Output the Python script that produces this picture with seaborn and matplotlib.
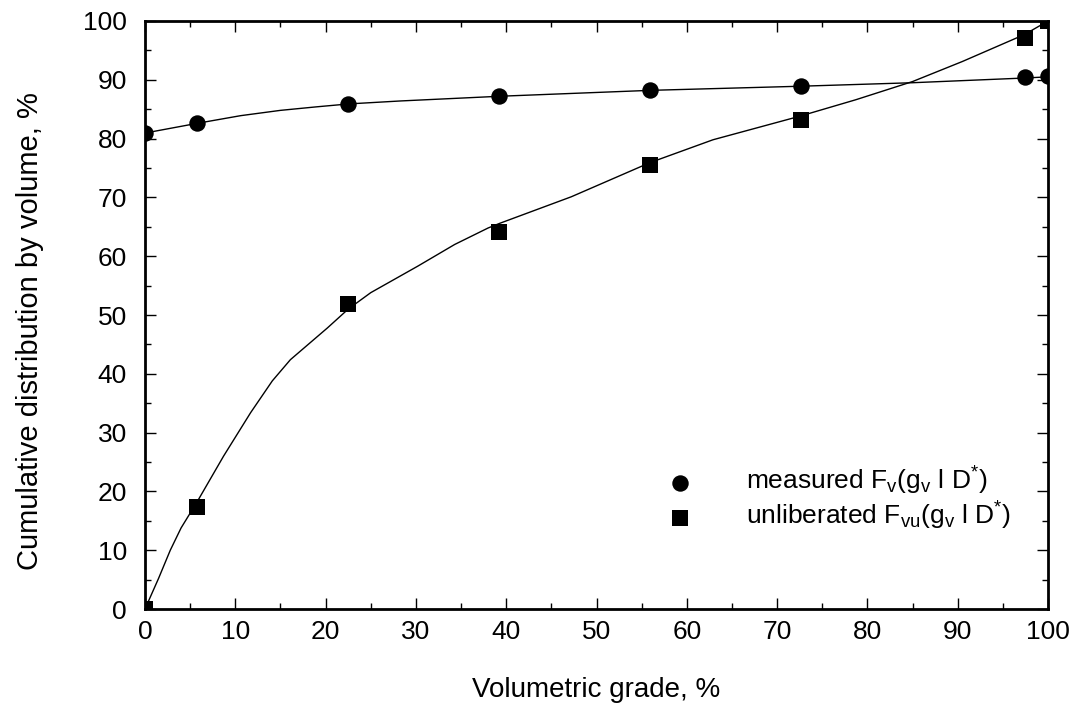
import matplotlib
matplotlib.use("Agg")
import matplotlib.pyplot as plt
from matplotlib.ticker import MultipleLocator
import seaborn as sns
import pandas as pd

# Measured grade distribution and the unliberated fraction (sample points)
grade_pts = [0.0, 5.8, 22.5, 39.2, 55.9, 72.6, 97.4, 100.0]
measured_pts = [81.0, 82.7, 85.9, 87.2, 88.3, 88.9, 90.4, 90.6]
unliberated_pts = [0.0, 17.4, 51.8, 64.1, 75.5, 83.2, 97.1, 100.0]

# Fitted model curves
measured_fit_x = [0.0, 0.9, 5.8, 10.6, 15.0, 19.0, 22.6, 28.3, 39.3, 55.9, 72.5, 85.0, 97.4, 100.0]
measured_fit_y = [81.0, 81.2, 82.6, 83.9, 84.8, 85.4, 85.9, 86.4, 87.2, 88.2, 88.9, 89.5, 90.3, 90.5]
unlib_fit_x = [0.0, 1.5, 2.8, 4.0, 5.8, 8.7, 11.7, 14.1, 16.1, 20.2, 22.5, 25.0, 30.2, 34.3,
               38.0, 39.3, 47.2, 55.9, 62.9, 72.5, 78.7, 85.0, 90.5, 97.4, 100.0]
unlib_fit_y = [0.0, 5.2, 10.0, 13.8, 18.3, 26.0, 33.4, 38.8, 42.4, 47.8, 51.0, 53.8, 58.3, 62.0,
               64.8, 65.6, 70.1, 75.9, 79.8, 83.8, 86.6, 89.7, 93.1, 97.7, 100.0]

sns.set_theme(style="white")
plt.rcParams["font.family"] = ["Liberation Sans", "DejaVu Sans"]
plt.rcParams["mathtext.fontset"] = "custom"
plt.rcParams["mathtext.rm"] = "Liberation Sans"
plt.rcParams["mathtext.it"] = "Liberation Sans"

fig = plt.figure(figsize=(10.78, 7.04), dpi=100)
ax = fig.add_axes([0.1345, 0.1349, 0.9722 - 0.1345, 0.9702 - 0.1349])

pts = pd.DataFrame({"grade": grade_pts, "measured": measured_pts, "unliberated": unliberated_pts})

sns.lineplot(x=measured_fit_x, y=measured_fit_y, sort=False, color="black", lw=1.0, ax=ax)
sns.lineplot(x=unlib_fit_x, y=unlib_fit_y, sort=False, color="black", lw=1.0, ax=ax)

sns.scatterplot(data=pts, x="grade", y="measured", marker="o", s=140, color="black",
                edgecolor="black", linewidth=0, ax=ax, zorder=3,
                label=r"measured F$_{\mathrm{v}}$(g$_{\mathrm{v}}$ l D$^{*}$)")
sns.scatterplot(data=pts, x="grade", y="unliberated", marker="s", s=120, color="black",
                edgecolor="black", linewidth=0, ax=ax, zorder=3,
                label=r"unliberated F$_{\mathrm{vu}}$(g$_{\mathrm{v}}$ l D$^{*}$)")

ax.set_xlim(0, 100)
ax.set_ylim(0, 100)
ax.xaxis.set_major_locator(MultipleLocator(10))
ax.xaxis.set_minor_locator(MultipleLocator(5))
ax.yaxis.set_major_locator(MultipleLocator(10))
ax.yaxis.set_minor_locator(MultipleLocator(5))
ax.tick_params(which="both", direction="in", top=True, right=True, bottom=True, left=True,
               color="black", width=1.0, labelsize=19, labelcolor="black")
ax.tick_params(which="major", length=8)
ax.tick_params(which="minor", length=4.5)
ax.tick_params(axis="x", which="major", pad=8)
ax.tick_params(axis="y", which="major", pad=13)

for sp in ax.spines.values():
    sp.set_visible(True)
    sp.set_color("black")
    sp.set_linewidth(2.0)

ax.set_xlabel("Volumetric grade, %", fontsize=20, color="black", labelpad=24)
ax.set_ylabel("Cumulative distribution by volume, %", fontsize=21, color="black", labelpad=28)
ax.yaxis.label.set_y(0.472)

leg = ax.legend(loc="upper left", bbox_to_anchor=(0.578, 0.245), frameon=False, fontsize=19,
                handlelength=1.0, handletextpad=2.0, labelspacing=0.1, borderaxespad=0,
                borderpad=0)
for t in leg.get_texts():
    t.set_color("black")

fig.savefig("out.png", dpi=100)
